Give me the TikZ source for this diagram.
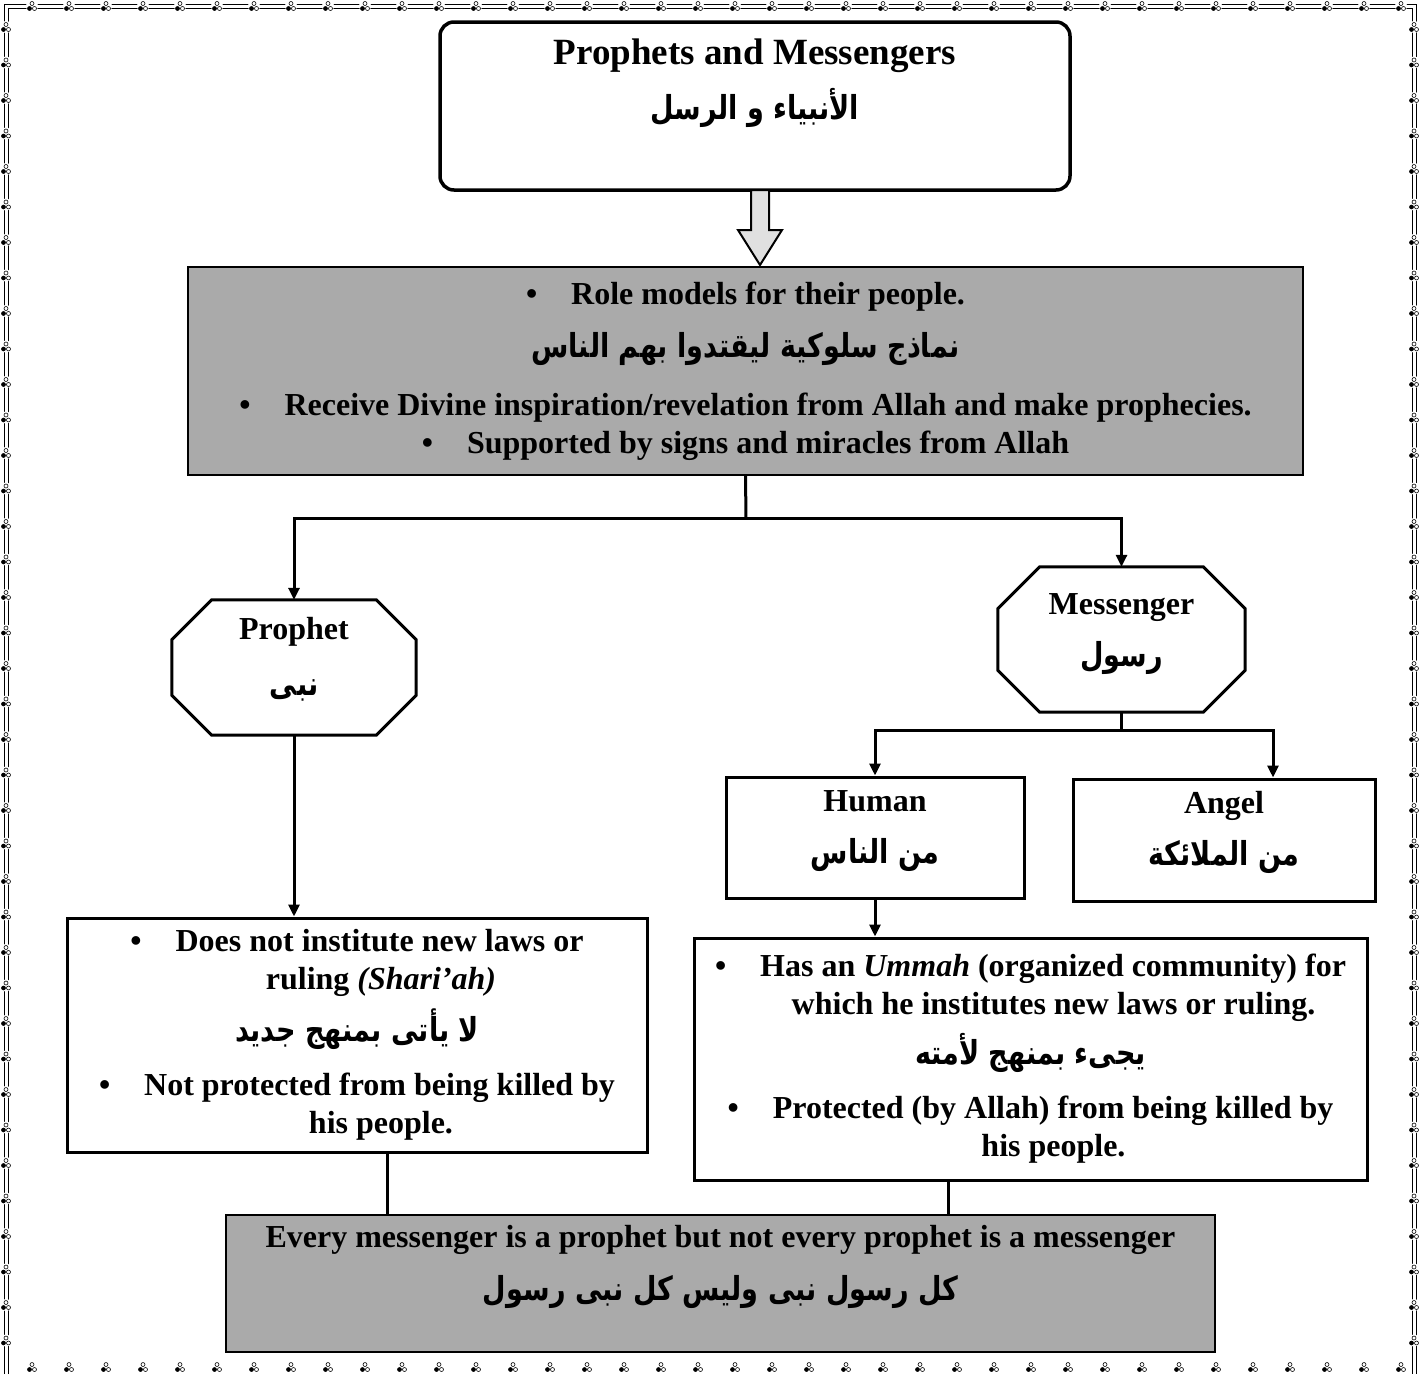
\documentclass[tikz,border=0pt]{standalone}
\usepackage{fontspec}
\setmainfont{Liberation Serif}
\newfontfamily\arabicfont[Script=Arabic, FakeStretch=0.82]{DejaVu Sans}
\TeXXeTstate=1
\usetikzlibrary{arrows.meta}
\definecolor{panelgrey}{RGB}{170,170,170}
\newcommand{\ar}[1]{{\arabicfont\fontsize{33}{38}\selectfont\beginR #1\endR}}
\newcommand{\bul}{\textbullet\hspace{34pt}}
% octagon round a named node: node, cut
\newcommand{\octagon}[2]{%
    \draw[line width=3pt, line join=miter]
        ([xshift=#2]#1.north west) -- ([xshift=-#2]#1.north east)
        -- ([yshift=-#2]#1.north east) -- ([yshift=#2]#1.south east)
        -- ([xshift=-#2]#1.south east) -- ([xshift=#2]#1.south west)
        -- ([yshift=#2]#1.south west) -- ([yshift=-#2]#1.north west) -- cycle;}

\begin{document}
\begin{tikzpicture}[x=1pt, y=-1pt,
    txt/.style={align=center, font=\fontsize{32}{38}\selectfont\bfseries},
    box/.style={txt, draw=black, line width=3pt, fill=white, inner sep=0pt},
    greybox/.style={txt, draw=black, line width=2pt, fill=panelgrey, inner sep=0pt},
    octo/.style={inner sep=0pt},
    conn/.style={line width=3pt},
    arrow/.style={conn, -{Triangle[length=12pt,width=11pt]}},
    frame/.style={line width=0.8pt},
    knot/.pic={
        \fill[white] (0,0) circle (6pt);
        \draw[line width=0.6pt, fill=black] (-2.5,2.5) circle (2pt);
        \draw[line width=0.6pt] (2.5,2.5) circle (2pt);
        \draw[line width=0.6pt] (0,-2.5) circle (2pt);
    }
]
    \useasboundingbox (0,0) rectangle (1422,1374);

    % border
    \draw[frame] (4,1374) -- (4,4) -- (1416,4) -- (1416,1374);
    \draw[frame] (8,1374) -- (8,8) -- (1412,8) -- (1412,1374);
    \foreach \i in {0,...,37} {
        \pic at (32+\i*37,6) {knot};
        \pic at (32+\i*37,1367) {knot};
    }
    \foreach \j in {0,...,37} {
        \pic at (6,27+\j*35.5) {knot};
        \pic at (1414,27+\j*35.5) {knot};
    }

    % title
    \node[box, rounded corners=14pt, line width=3.5pt,
        minimum width=630pt, minimum height=168pt] (title) at (755,106) {};
    \node[txt, font=\fontsize{37}{44}\selectfont\bfseries] (titletext) at (755,83.5)
        {Prophets and Messengers\\[11pt]\ar{الأنبياء و الرسل}};

    % shared traits
    \node[greybox, minimum width=1115pt, minimum height=208pt] (grey) at (745.5,371)
        {\bul Role models for their people.\\[15pt]
         \ar{نماذج سلوكية ليقتدوا بهم الناس}\\[20pt]
         \bul Receive Divine inspiration/revelation from Allah and make prophecies.\\
         \bul Supported by signs and miracles from Allah};
    \draw[line width=2pt, fill=black!12] (751,190) -- (751,230) -- (738,230) -- (760,265)
        -- (782,230) -- (769,230) -- (769,190) -- cycle;

    % prophet / messenger
    \node[octo, minimum width=244pt, minimum height=135pt] (prophet) at (294,667.5) {};
    \octagon{prophet}{40pt}
    \node[txt] (prophettext) at ([yshift=8pt]prophet.center) {Prophet\\[18pt]\ar{نبى}};
    \node[octo, minimum width=247pt, minimum height=145pt] (messenger) at (1121.5,639.5) {};
    \octagon{messenger}{42pt}
    \node[txt] (messengertext) at ([yshift=5pt]messenger.center) {Messenger\\[14pt]\ar{رسول}};
    \coordinate (split) at (746,518);
    \draw[conn] (grey.south) -- (split);
    \draw[arrow] (split) -| (prophet.north);
    \draw[arrow] (split) -| (messenger.north);

    % kinds of messenger
    \node[box, minimum width=298pt, minimum height=121pt] (human) at (875,837.5) {};
    \node[txt] (humantext) at ([yshift=6.5pt]human.center) {Human\\[14pt]\ar{من الناس}};
    \node[box, minimum width=302pt, minimum height=122pt] (angel) at (1224,840) {};
    \node[txt] (angeltext) at ([yshift=7.5pt]angel.center) {Angel\\[14pt]\ar{من الملائكة}};
    \coordinate (msplit) at (1121.5,730);
    \coordinate (angelin) at ([xshift=49pt]angel.north);
    \draw[conn] (messenger.south) -- (msplit);
    \draw[arrow] (msplit) -| (human.north);
    \draw[arrow] (msplit) -| (angelin);

    % details
    \node[box, minimum width=580pt, minimum height=234pt] (pbox) at (357,1035)
        {\bul Does not institute new laws or\\
         \hspace*{48pt}ruling \textit{(Shari’ah)}\\[11pt]
         \ar{لا يأتى بمنهج جديد}\\[16pt]
         \bul Not protected from being killed by\\
         \hspace*{48pt}his people.};
    \node[box, minimum width=673pt, minimum height=242pt] (mbox) at (1030.5,1059)
        {\bul Has an \textit{Ummah} (organized community) for\\
         \hspace*{46pt}which he institutes new laws or ruling.\\[11pt]
         \ar{يجىء بمنهج لأمته}\\[16pt]
         \bul Protected (by Allah) from being killed by\\
         \hspace*{46pt}his people.};
    \draw[arrow] (prophet.south) -- (prophet.south |- pbox.north);
    \draw[arrow] (human.south) -- (human.south |- mbox.north);

    % summary
    \node[greybox, minimum width=989pt, minimum height=137pt] (summary) at (720.5,1283.5) {};
    \node[txt] (summarytext) at (720.5,1267)
        {Every messenger is a prophet but not every prophet is a messenger\\[15pt]
         \ar{كل رسول نبى وليس كل نبى رسول}};
    \coordinate (pjoin) at ([xshift=30pt]pbox.south);
    \coordinate (mjoin) at ([xshift=-82.5pt]mbox.south);
    \draw[conn] (pjoin) -- (pjoin |- summary.north);
    \draw[conn] (mjoin) -- (mjoin |- summary.north);
\end{tikzpicture}
\end{document}
